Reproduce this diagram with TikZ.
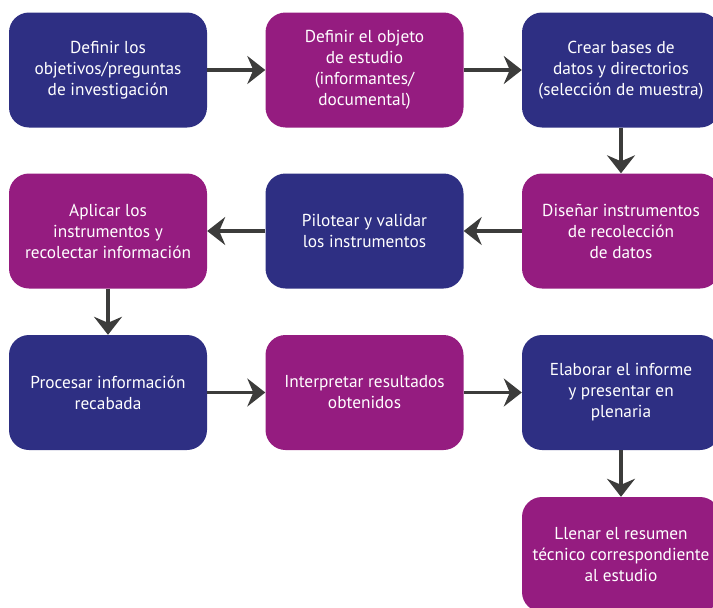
\documentclass[tikz,border=0pt]{standalone}
\usepackage{xcolor}
\usepackage{fontspec}
\setmainfont{PT Sans}
\usetikzlibrary{arrows.meta,positioning}

\definecolor{navy}{HTML}{2E2F83}
\definecolor{plum}{HTML}{951C80}
\definecolor{arrowgray}{HTML}{3C3C3B}

\tikzset{
  stepbox/.style={rounded corners=20pt, minimum width=198pt, minimum height=115pt,
    inner sep=0pt, align=center, text=white, font=\fontsize{17.3}{21}\selectfont},
  bluebox/.style={stepbox, fill=navy},
  plumbox/.style={stepbox, fill=plum},
  flow/.style={->, line width=3.5pt, draw=arrowgray}
}

\begin{document}
\begin{tikzpicture}[x=1pt,y=-1pt, line cap=butt, line join=round,
  >={Stealth[length=18pt,width=28pt,inset=6pt]}]
\useasboundingbox (0,0) rectangle (713,608);
\clip (0,0) rectangle (713,608);
% 1st row
\node[bluebox] (objetivos) at (108,70) {Definir los\\objetivos/preguntas\\de investigación};
\node[plumbox] (objeto) at (364.5,70) {Definir el objeto\\de estudio\\(informantes/\\documental)};
\node[bluebox] (bases) at (621,70) {Crear bases de\\datos y directorios\\(selección de muestra)};
% 2nd row
\node[plumbox] (aplicar) at (108,231) {Aplicar los\\instrumentos y\\recolectar información};
\node[bluebox] (pilotear) at (364.5,231) {Pilotear y validar\\los instrumentos};
\node[plumbox] (disenar) at (621,231) {Diseñar instrumentos\\de recolección\\de datos};
% 3rd row
\node[bluebox] (procesar) at (108,392.5) {Procesar información\\recabada};
\node[plumbox] (interpretar) at (364.5,392.5) {Interpretar resultados\\obtenidos};
\node[bluebox] (informe) at (621,392.5) {Elaborar el informe\\y presentar en\\plenaria};
% last one
\node[plumbox] (resumen) at (621,554.5) {Llenar el resumen\\técnico correspondiente\\al estudio};

\draw[flow] (objetivos) -- (objeto);
\draw[flow] (objeto) -- (bases);
\draw[flow] (bases) -- (disenar);
\draw[flow] (disenar) -- (pilotear);
\draw[flow] (pilotear) -- (aplicar);
\draw[flow] (aplicar) -- (procesar);
\draw[flow] (procesar) -- (interpretar);
\draw[flow] (interpretar) -- (informe);
\draw[flow] (informe) -- (resumen);
\end{tikzpicture}
\end{document}
